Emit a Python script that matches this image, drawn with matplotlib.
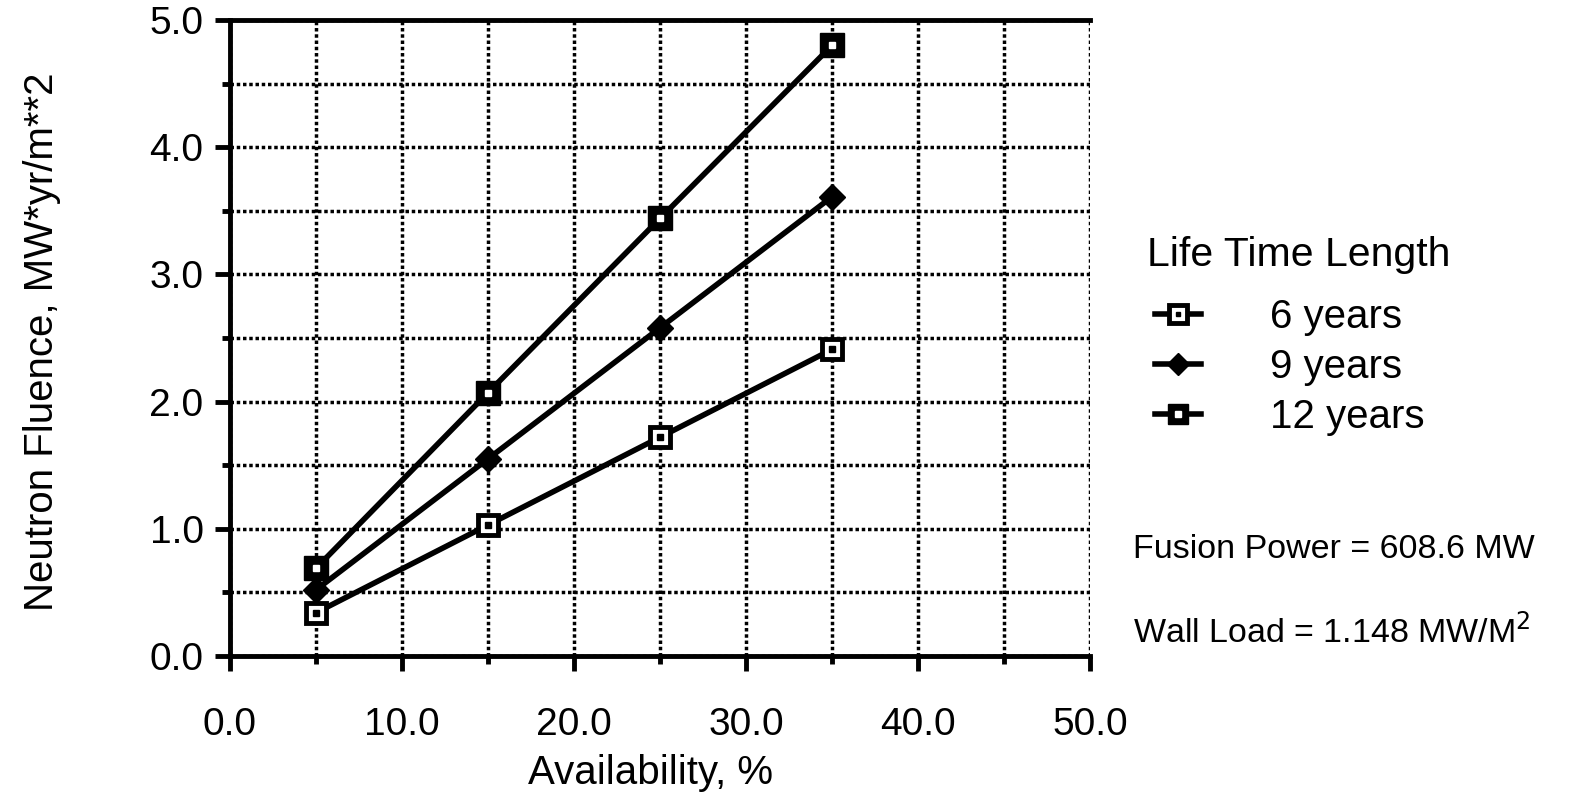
import matplotlib
matplotlib.use("Agg")
import matplotlib.pyplot as plt
from matplotlib.legend_handler import HandlerTuple
from matplotlib.ticker import MultipleLocator, FormatStrFormatter

# ================= DATA =================
availability = [5, 15, 25, 35]                 # %
fluence_6yr = [0.34, 1.03, 1.72, 2.41]         # MW*yr/m**2
fluence_9yr = [0.52, 1.55, 2.58, 3.61]
fluence_12yr = [0.69, 2.07, 3.44, 4.80]
series_labels = ["6 years", "9 years", "12 years"]
# ========================================

plt.rcParams['font.family'] = ['Liberation Sans', 'DejaVu Sans']

fig = plt.figure(figsize=(15.72, 7.93), dpi=100)
ax = fig.add_axes([230 / 1572, 1 - 656 / 793, 860 / 1572, 636 / 793])

LW = 4.0
# 6 years: open square with a dot in the middle
l6, = ax.plot(availability, fluence_6yr, color="black", lw=LW, marker="s",
              ms=15, mfc="white", mec="black", mew=3.5, zorder=3)
d6, = ax.plot(availability, fluence_6yr, ls="none", marker="s", ms=4,
              color="black", zorder=4)
# 9 years: filled diamond
l9, = ax.plot(availability, fluence_9yr, color="black", lw=LW, marker="D",
              ms=13, mfc="black", mec="black", zorder=3)
# 12 years: filled square with small white centre
l12, = ax.plot(availability, fluence_12yr, color="black", lw=LW, marker="s",
               ms=17, mfc="black", mec="black", zorder=3)
d12, = ax.plot(availability, fluence_12yr, ls="none", marker="s", ms=4.5,
               color="white", mec="white", zorder=4)

ax.set_xlim(0, 50)
ax.set_ylim(0, 5)
ax.xaxis.set_major_locator(MultipleLocator(10))
ax.xaxis.set_minor_locator(MultipleLocator(5))
ax.yaxis.set_major_locator(MultipleLocator(1))
ax.yaxis.set_minor_locator(MultipleLocator(0.5))
ax.xaxis.set_major_formatter(FormatStrFormatter("%.1f"))
ax.yaxis.set_major_formatter(FormatStrFormatter("%.1f"))

ax.grid(True, which="both", color="black", ls=(0, (1, 0.8)), lw=2.5, zorder=1)
ax.tick_params(which="major", direction="out", length=11, width=3.5, labelsize=28, pad=8)
ax.tick_params(which="minor", direction="out", length=6, width=3.5)
ax.tick_params(axis="x", which="major", labelsize=28, pad=26)
ax.spines["right"].set_visible(False)
for s in ["left", "bottom", "top"]:
    ax.spines[s].set_linewidth(3.5)

ax.set_xlabel("Availability, %", fontsize=29)
ax.xaxis.set_label_coords(0.4895, -0.154)
ax.set_ylabel("Neutron Fluence, MW*yr/m**2", fontsize=29)
ax.yaxis.set_label_coords(-0.197, 0.494)

# legend title drawn as its own text so the gap above the entries can be set
fig.text(1147 / 1572, 1 - 255 / 793, "Life Time Length", fontsize=29.5,
         va="center", ha="left")
leg = fig.legend([(l6, d6), l9, (l12, d12)], series_labels,
                 handler_map={tuple: HandlerTuple(ndivide=1)},
                 fontsize=29, loc="upper left",
                 bbox_to_anchor=(1155 / 1572, 1 - 298 / 793),
                 frameon=False, handlelength=1.15, handletextpad=1.7,
                 labelspacing=0.3, borderpad=0, borderaxespad=0,
                 markerscale=0.85)

fig.text(1133 / 1572, 1 - 550 / 793, "Fusion Power = 608.6 MW",
         fontsize=24.5, va="center", ha="left")
fig.text(1133 / 1572, 1 - 632 / 793, "Wall Load = 1.148 MW/M$^2$",
         fontsize=24.5, va="center", ha="left")

fig.savefig("out.png", dpi=100)
